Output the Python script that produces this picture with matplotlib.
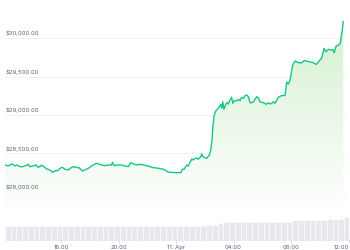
import numpy as np
import matplotlib
matplotlib.use("Agg")
import matplotlib.pyplot as plt
from matplotlib.patches import Polygon

# ---- data (minutes after 10 Apr 12:00) ----
price_minutes = [6, 20, 34, 48, 55, 69, 80, 94, 103, 110, 123, 135, 145, 159, 169, 180, 194, 205, 215, 225,
                 236, 245, 256, 270, 280, 291, 302, 316, 330, 340, 354, 368, 382, 391, 403, 410, 424, 437, 451, 455,
                 462, 476, 490, 507, 521, 531, 542, 556, 570, 584, 598, 611, 625, 639, 653, 667, 678, 688, 702, 716,
                 729, 741, 746, 754, 764, 771, 778, 786, 792, 799, 806, 813, 823, 827, 834, 848, 859, 865, 870, 873,
                 878, 884, 892, 901, 907, 911, 915, 920, 926, 932, 938, 945, 952, 957, 963, 973, 980, 987, 994, 1001,
                 1008, 1015, 1022, 1029, 1036, 1043, 1057, 1064, 1071, 1085, 1096, 1106, 1113, 1120, 1126, 1133, 1147, 1161, 1175, 1182,
                 1189, 1196, 1207, 1217, 1231, 1245, 1255, 1272, 1293, 1306, 1317, 1328, 1338, 1345, 1356, 1366, 1374, 1380, 1388, 1398,
                 1405, 1412, 1418]
price_values = [28351, 28338, 28364, 28338, 28351, 28329, 28329, 28344, 28360, 28329, 28338, 28351, 28321, 28347, 28329, 28299, 28286, 28256, 28277, 28277,
                28308, 28321, 28295, 28286, 28312, 28329, 28321, 28312, 28273, 28286, 28308, 28338, 28364, 28373, 28355, 28351, 28342, 28351, 28351, 28386,
                28342, 28351, 28351, 28338, 28329, 28381, 28364, 28351, 28360, 28351, 28342, 28329, 28316, 28312, 28303, 28295, 28277, 28256, 28256, 28251,
                28251, 28251, 28295, 28295, 28351, 28338, 28381, 28429, 28416, 28435, 28442, 28425, 28458, 28494, 28451, 28438, 28481, 28546, 28675, 28805,
                28978, 29043, 29074, 29108, 29139, 29087, 29173, 29074, 29130, 29160, 29143, 29195, 29230, 29152, 29186, 29186, 29204, 29186, 29230, 29217,
                29251, 29260, 29238, 29160, 29160, 29173, 29238, 29221, 29169, 29160, 29139, 29160, 29143, 29152, 29173, 29152, 29230, 29253, 29253, 29429,
                29403, 29455, 29649, 29701, 29679, 29679, 29708, 29695, 29679, 29656, 29701, 29740, 29866, 29822, 29853, 29844, 29853, 29809, 29896, 29909,
                29931, 30061, 30212]

volume_start_minutes = [6 + 24 * i for i in range(60)]
volume_values = [15.0, 15.0, 15.1, 15.0, 15.0, 15.0, 15.1, 15.0, 15.0, 15.1,
                 15.3, 15.3, 15.2, 15.2, 15.2, 15.2, 15.2, 15.1, 15.1, 15.1,
                 15.1, 15.1, 15.1, 15.1, 15.2, 15.2, 15.3, 15.3, 15.3, 15.3,
                 15.4, 15.4, 15.4, 15.4, 15.5, 15.6, 16.5, 18.5, 19.2, 19.3,
                 19.3, 19.3, 19.3, 19.3, 19.3, 19.3, 19.3, 19.4, 19.4, 19.5,
                 20.8, 20.8, 20.9, 20.9, 21.0, 21.0, 22.3, 22.4, 22.5, 24.0]

y_ticks = [28000, 28500, 29000, 29500, 30000]
x_tick_minutes = [240, 480, 720, 960, 1200, 1440]
x_tick_labels = ["16:00", "20:00", "11. Apr", "04:00", "08:00", "12:00"]

# ---- styling ----
W, H = 350, 250
FONT = "Inter"
LINE = "#16c784"
TXT = "#58667e"
FS = 4.3

fig = plt.figure(figsize=(W / 100, H / 100), dpi=100)
fig.patch.set_facecolor("white")

def rect(x0, y0, x1, y1):
    return [x0 / W, 1 - y1 / H, (x1 - x0) / W, (y1 - y0) / H]

xlim = (6, 1442)
ax = fig.add_axes(rect(5, 0, 349, 215))
ax.set_xlim(*xlim)
ax.set_ylim(27701, 30494)
ax.axis("off")

for v in y_ticks:
    ax.axhline(v, xmin=0, xmax=0.988, color="#eef0f3", lw=0.7, zorder=1)
    ax.annotate(f"${v:,.2f}", xy=(1 / 344, v), xycoords=("axes fraction", "data"),
                xytext=(0, 1.2), textcoords="offset points", va="bottom", ha="left",
                fontsize=FS, color=TXT, family=FONT)

# gradient fill under the line
ymin, ymax = ax.get_ylim()
verts = list(zip(price_minutes, price_values)) + [(price_minutes[-1], ymin), (price_minutes[0], ymin)]
poly = Polygon(verts, closed=True, facecolor="none", edgecolor="none")
ax.add_patch(poly)
top = np.array([0.82, 0.94, 0.80])
bot = np.array([1.0, 1.0, 1.0])
t = np.linspace(0, 1, 256)[:, None]
grad = (top * (1 - t) + bot * t)[:, None, :]
im = ax.imshow(grad, extent=[xlim[0], xlim[1], ymin, ymax], aspect="auto", origin="upper", zorder=2)
im.set_clip_path(poly)
ax.set_xlim(*xlim)
ax.set_ylim(ymin, ymax)

ax.plot(price_minutes, price_values, color=LINE, lw=1.0, zorder=3, solid_joinstyle="round")

# volume pane
ax2 = fig.add_axes(rect(5, 213, 349, 241))
ax2.bar(volume_start_minutes, volume_values, width=24, align="edge",
        color="#e7e8ed", edgecolor="white", linewidth=0.4)
ax2.set_xlim(*xlim)
ax2.set_ylim(0, 28)
for s in ax2.spines.values():
    s.set_visible(False)
ax2.set_yticks([])
ax2.set_xticks(x_tick_minutes)
ax2.set_xticklabels(x_tick_labels, fontsize=FS, color=TXT, family=FONT)
ax2.tick_params(axis="x", length=3, width=0.6, color="#d5d8de", pad=1.2, direction="inout")
ax2.get_xticklabels()[-1].set_ha("right")

fig.savefig("out.png", dpi=100, facecolor="white")
